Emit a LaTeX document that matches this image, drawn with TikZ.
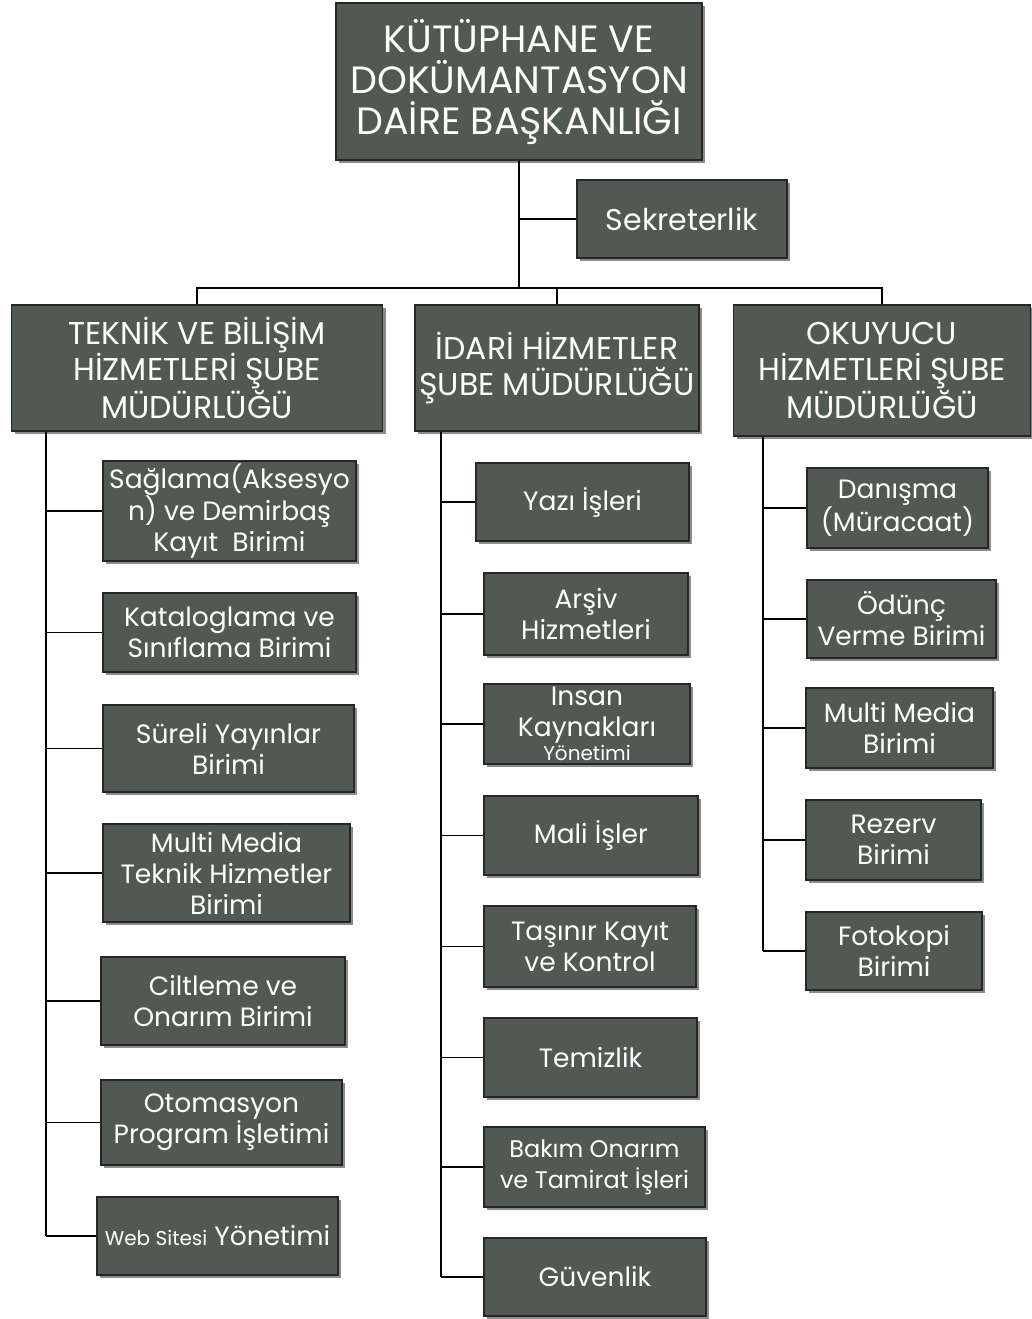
\documentclass[tikz,border=0pt]{standalone}
\usepackage{fontspec}
\setmainfont{Poppins}
\usetikzlibrary{shadows}
\definecolor{boxfill}{RGB}{80,90,82}
\tikzset{
  box/.style={draw=black!85, line width=1.2pt, fill=boxfill, text=white, align=center,
    inner sep=0pt, anchor=center,
    drop shadow={shadow xshift=3pt, shadow yshift=-3pt, fill=black, opacity=0.45}},
  topfont/.style={font=\fontsize{38}{41}\selectfont},
  mgrfont/.style={font=\fontsize{31.5}{36}\selectfont},
  sekfont/.style={font=\fontsize{30}{36}\selectfont},
  unitfont/.style={font=\fontsize{26.5}{31}\selectfont},
  conn/.style={draw=black, line width=1.8pt}
}
\begin{document}
\begin{tikzpicture}[x=1pt,y=-1pt]
\useasboundingbox[fill=white] (0,0) rectangle (1032,1319);
% top
\node[box,topfont,minimum width=366,minimum height=157] (top) at (519,81.5) {KÜTÜPHANE VE\\DOKÜMANTASYON\\DAİRE BAŞKANLIĞI};
\node[box,sekfont,minimum width=210,minimum height=78] (sek) at (682,219) {Sekreterlik};
% managers
\node[box,mgrfont,minimum width=371,minimum height=126] (tek) at (197,368) {TEKNİK VE BİLİŞİM\\HİZMETLERİ ŞUBE\\MÜDÜRLÜĞÜ};
\node[box,mgrfont,minimum width=284,minimum height=126] (idr) at (557,368) {İDARİ HİZMETLER\\ŞUBE MÜDÜRLÜĞÜ};
\node[box,mgrfont,minimum width=297,minimum height=131] (oku) at (882,370.5) {OKUYUCU\\HİZMETLERİ ŞUBE\\MÜDÜRLÜĞÜ};
% left column
\node[box,unitfont,minimum width=253,minimum height=100] (sag) at (229.5,511) {Sağlama(Aksesyo\\n) ve Demirbaş\\Kayıt\ \ Birimi};
\node[box,unitfont,minimum width=253,minimum height=79] (kat) at (229.5,632.5) {Kataloglama ve\\Sınıflama Birimi};
\node[box,unitfont,minimum width=251,minimum height=87] (sur) at (228.5,748.5) {Süreli Yayınlar\\Birimi};
\node[box,unitfont,minimum width=247,minimum height=98] (mmt) at (226.5,873) {Multi Media\\Teknik Hizmetler\\Birimi};
\node[box,unitfont,minimum width=244,minimum height=88] (cil) at (223,1001) {Ciltleme ve\\Onarım Birimi};
\node[box,unitfont,minimum width=241,minimum height=85] (oto) at (221.5,1122.5) {Otomasyon\\Program İşletimi};
\node[box,unitfont,minimum width=241,minimum height=78] (web) at (217.5,1236) {{\fontsize{20}{31}\selectfont Web Sitesi} Yönetimi};
% middle column
\node[box,unitfont,minimum width=213,minimum height=78] (yaz) at (582.5,502) {Yazı İşleri};
\node[box,unitfont,minimum width=204,minimum height=82] (ars) at (586,614) {Arşiv\\Hizmetleri};
\node[box,unitfont,minimum width=206,minimum height=80] (ins) at (587,724) {Insan\\Kaynakları\\[-7pt]{\fontsize{20}{22}\selectfont Yönetimi}};
\node[box,unitfont,minimum width=214,minimum height=79] (mal) at (591,835.5) {Mali İşler};
\node[box,unitfont,minimum width=212,minimum height=81] (tas) at (590,946.5) {Taşınır Kayıt\\ve Kontrol};
\node[box,unitfont,minimum width=213,minimum height=79] (tem) at (590.5,1057.5) {Temizlik};
\node[box,unitfont,minimum width=221,minimum height=80] (bak) at (594.5,1167) {{\fontsize{24}{29}\selectfont Bakım Onarım}\\{\fontsize{24}{29}\selectfont ve Tamirat İşleri}};
\node[box,unitfont,minimum width=222,minimum height=78] (guv) at (595,1277) {Güvenlik};
% right column
\node[box,unitfont,minimum width=181,minimum height=80] (dan) at (897.5,508) {Danışma\\(Müracaat)};
\node[box,unitfont,minimum width=189,minimum height=78] (odu) at (901.5,619) {Ödünç\\Verme Birimi};
\node[box,unitfont,minimum width=187,minimum height=80] (mmb) at (899.5,728) {Multi Media\\Birimi};
\node[box,unitfont,minimum width=175,minimum height=80] (rez) at (893.5,840) {Rezerv\\Birimi};
\node[box,unitfont,minimum width=176,minimum height=78] (fot) at (894,951) {Fotokopi\\Birimi};
% connectors
\coordinate (bus) at (519,288);
\coordinate (lv) at (46,0);
\coordinate (mv) at (441,0);
\coordinate (rv) at (763,0);
\draw[conn] (top.south) -- (bus);
\draw[conn] (top.south |- sek.west) -- (sek.west);
\draw[conn] (tek.north) -- (tek.north |- bus) -- (oku.north |- bus) -- (oku.north);
\draw[conn] (idr.north |- bus) -- (idr.north);
% left
\draw[conn] (lv |- tek.south) -- (lv |- web.west);
\foreach \n in {sag,kat,sur,mmt,cil,oto,web} \draw[conn] (lv |- \n.west) -- (\n.west);
% middle
\draw[conn] (mv |- idr.south) -- (mv |- guv.west);
\foreach \n in {yaz,ars,ins,mal,tas,tem,bak,guv} \draw[conn] (mv |- \n.west) -- (\n.west);
% right
\draw[conn] (rv |- oku.south) -- (rv |- fot.west);
\foreach \n in {dan,odu,mmb,rez,fot} \draw[conn] (rv |- \n.west) -- (\n.west);
\end{tikzpicture}
\end{document}
